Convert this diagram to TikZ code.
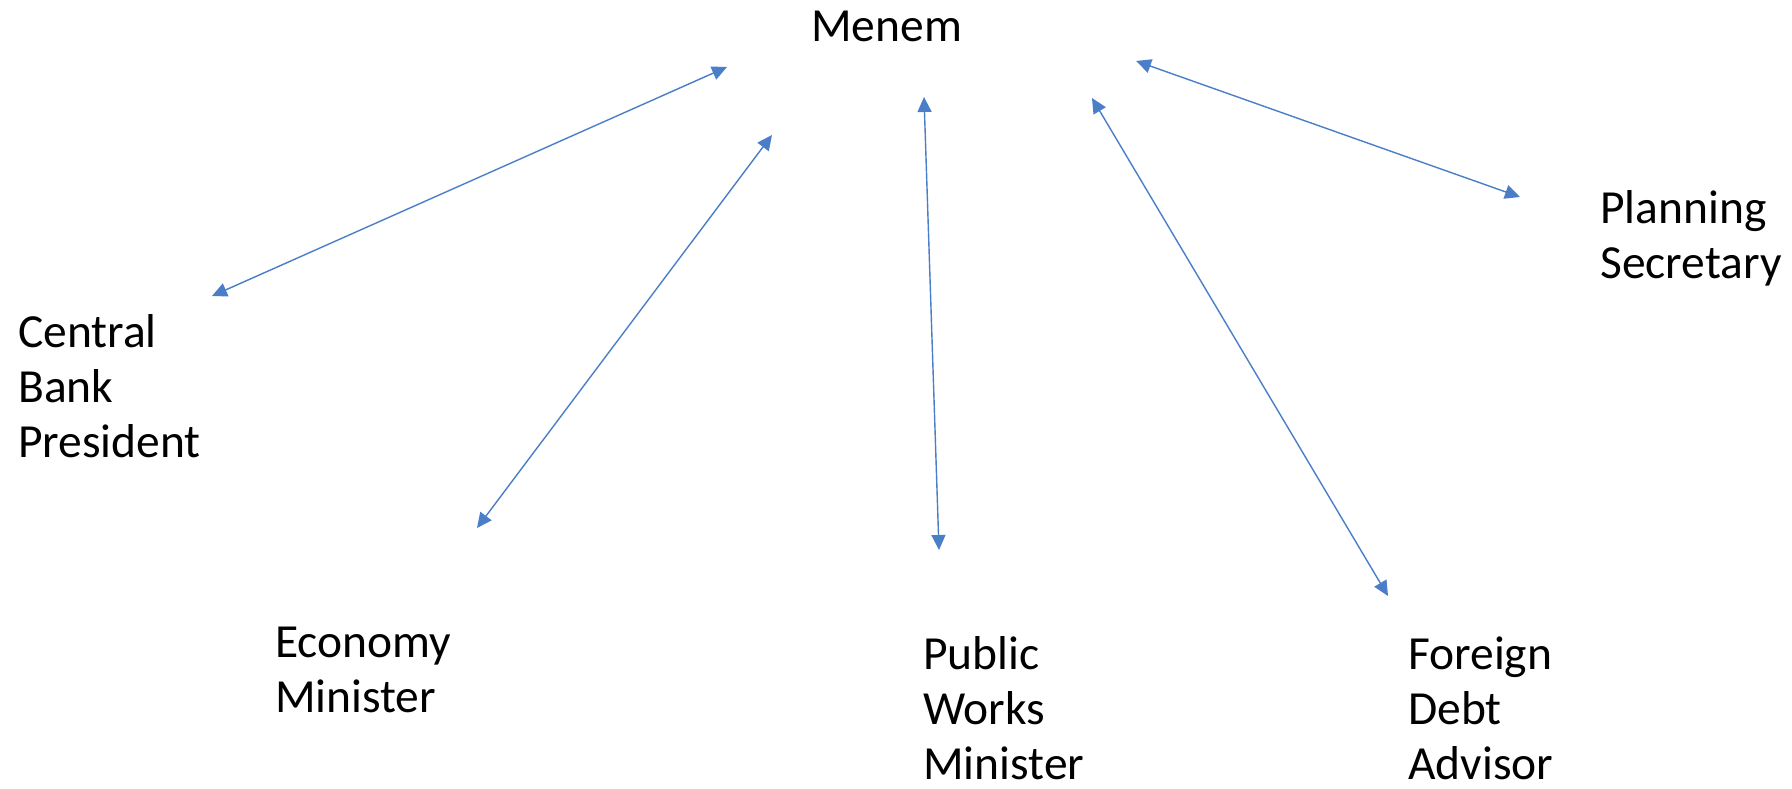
\documentclass[tikz,border=0pt]{standalone}
\usepackage{fontspec}
\setmainfont{Carlito}
\usetikzlibrary{arrows.meta}
\definecolor{linkblue}{RGB}{74,126,200}
\begin{document}
\begin{tikzpicture}[x=1pt,y=-1pt,
  label text/.style={anchor=base west,inner sep=0pt,align=left,
    font=\fontsize{47.5}{55}\selectfont},
  link/.style={draw=linkblue,line width=1.4pt,
    {Triangle[length=15pt,width=14pt]}-{Triangle[length=15pt,width=14pt]}}]
  \useasboundingbox (0,0) rectangle (1792,789);

  % people (positions give the baseline of the last line)
  \node[label text] (menem)   at (811,42)   {Menem};
  \node[label text] (plan)    at (1600,278) {Planning\\Secretary};
  \node[label text] (bank)    at (18,457)   {Central\\Bank\\President};
  \node[label text] (economy) at (275,712)  {Economy\\Minister};
  \node[label text] (works)   at (923,779)  {Public\\Works\\Minister};
  \node[label text] (debt)    at (1408,779) {Foreign\\Debt\\Advisor};

  % arrow ends
  \coordinate (mBank) at (727,67);   \coordinate (bankM) at (212,296);
  \coordinate (mEco)  at (772,135);  \coordinate (ecoM)  at (477,528);
  \coordinate (mWrk)  at (924,97);   \coordinate (wrkM)  at (939,550);
  \coordinate (mDebt) at (1092,98);  \coordinate (debtM) at (1388,596);
  \coordinate (mPlan) at (1136,61);  \coordinate (planM) at (1520,197);

  % two-way links
  \draw[link] (mBank) -- (bankM);
  \draw[link] (mEco)  -- (ecoM);
  \draw[link] (mWrk)  -- (wrkM);
  \draw[link] (mDebt) -- (debtM);
  \draw[link] (mPlan) -- (planM);
\end{tikzpicture}
\end{document}
